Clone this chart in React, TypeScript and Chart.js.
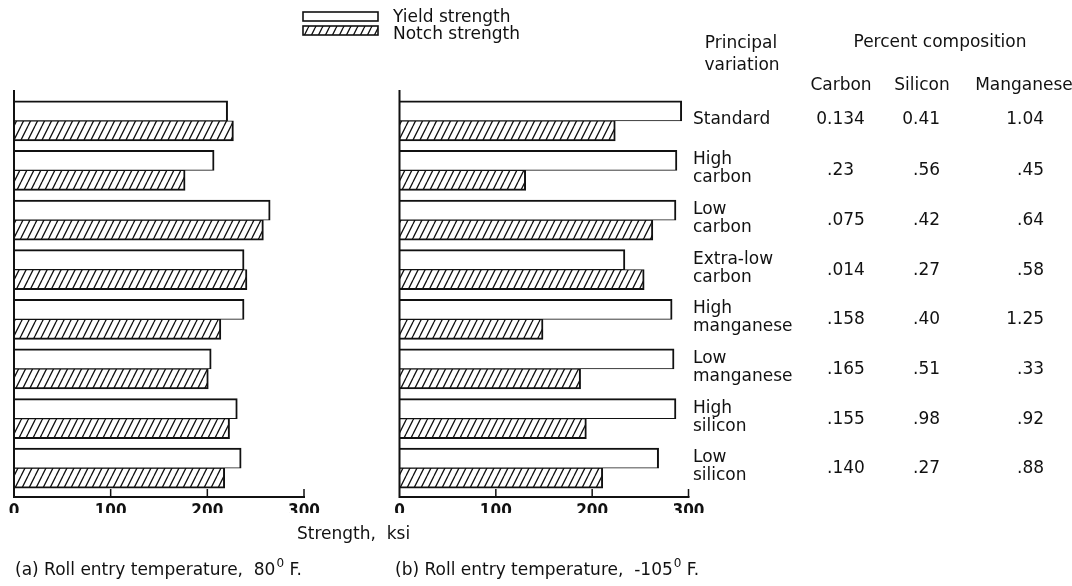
import React, { useEffect, useRef } from "react";
import { Chart, registerables } from "chart.js";

Chart.register(...registerables);

// ---------- data ----------
const categories = [
  "Standard",
  "High carbon",
  "Low carbon",
  "Extra-low carbon",
  "High manganese",
  "Low manganese",
  "High silicon",
  "Low silicon",
];
// (a) Roll entry temperature 80 F
const yieldA = [221, 207, 265, 238, 238, 204, 231, 235];
const notchA = [227, 177, 258, 241, 214, 201, 223, 218];
// (b) Roll entry temperature -105 F
const yieldB = [293, 288, 287, 234, 283, 285, 287, 269];
const notchB = [224, 131, 263, 254, 149, 188, 194, 211];

const xTicks = [0, 100, 200, 300];
const legendLabels = ["Yield strength", "Notch strength"];

const rowLabels = [
  ["Standard"],
  ["High", "carbon"],
  ["Low", "carbon"],
  ["Extra-low", "carbon"],
  ["High", "manganese"],
  ["Low", "manganese"],
  ["High", "silicon"],
  ["Low", "silicon"],
];
const carbonPct = ["0.134", ".23", ".075", ".014", ".158", ".165", ".155", ".140"];
const siliconPct = ["0.41", ".56", ".42", ".27", ".40", ".51", ".98", ".27"];
const manganesePct = ["1.04", ".45", ".64", ".58", "1.25", ".33", ".92", ".88"];

const headerPrincipal = ["Principal", "variation"];
const headerPercent = "Percent composition";
const columnHeaders = ["Carbon", "Silicon", "Manganese"];
const axisTitle = "Strength,  ksi";
const captionA = ["(a) Roll entry temperature,  80", "0", " F."];
const captionB = ["(b) Roll entry temperature,  -105", "0", " F."];

// ---------- styling ----------
const W = 1072;
const H = 586;
const INK = "#111";
const FONT = "17px 'DejaVu Sans', sans-serif";
const SUPFONT = "12px 'DejaVu Sans', sans-serif";

function makeHatch(): CanvasPattern | string {
  const c = document.createElement("canvas");
  c.width = 7;
  c.height = 14;
  const g = c.getContext("2d");
  if (!g) return "#ccc";
  g.fillStyle = "#fff";
  g.fillRect(0, 0, 7, 14);
  g.strokeStyle = INK;
  g.lineWidth = 1.3;
  g.beginPath();
  for (const dx of [-7, 0, 7]) {
    g.moveTo(dx, 14);
    g.lineTo(dx + 7, 0);
  }
  g.stroke();
  return g.createPattern(c, "repeat") || "#ccc";
}

const axisPlugin = {
  id: "panelAxes",
  afterDatasetsDraw(chart: any) {
    const { ctx, chartArea } = chart;
    const x = chart.scales.x;
    const x0 = x.getPixelForValue(xTicks[0]);
    const xEnd = x.getPixelForValue(xTicks[xTicks.length - 1]);
    const yTop = chartArea.top - 6;
    const yAxis = chartArea.bottom + 4;
    ctx.save();
    ctx.strokeStyle = INK;
    ctx.lineWidth = 2;
    ctx.beginPath();
    ctx.moveTo(x0, yTop);
    ctx.lineTo(x0, yAxis + 1);
    ctx.moveTo(x0 - 1, yAxis);
    ctx.lineTo(xEnd + 1, yAxis);
    ctx.stroke();
    ctx.lineWidth = 1.5;
    ctx.beginPath();
    for (const v of xTicks.slice(1)) {
      const px = x.getPixelForValue(v);
      ctx.moveTo(px, yAxis);
      ctx.lineTo(px, yAxis - 8);
    }
    ctx.stroke();
    ctx.restore();
  },
};

const legendPlugin = {
  id: "boxLegend",
  afterDraw(chart: any) {
    const { ctx } = chart;
    const boxTops = [12, 26];
    const textBase = [22, 39];
    ctx.save();
    chart.data.datasets.forEach((d: any, i: number) => {
      const top = boxTops[i];
      ctx.fillStyle = d.backgroundColor;
      ctx.fillRect(303, top, 75, 9);
      ctx.strokeStyle = INK;
      ctx.lineWidth = 1.6;
      ctx.strokeRect(303, top, 75, 9);
      ctx.fillStyle = INK;
      ctx.font = FONT;
      ctx.textAlign = "left";
      ctx.textBaseline = "alphabetic";
      ctx.fillText(d.label, 393, textBase[i]);
    });
    ctx.restore();
  },
};

function drawDecimal(ctx: CanvasRenderingContext2D, s: string, x: number, y: number) {
  const k = s.indexOf(".");
  const intPart = k >= 0 ? s.slice(0, k) : s;
  const frac = k >= 0 ? s.slice(k) : "";
  ctx.textAlign = "right";
  if (intPart) ctx.fillText(intPart, x, y);
  ctx.textAlign = "left";
  if (frac) ctx.fillText(frac, x, y);
}

function drawSup(ctx: CanvasRenderingContext2D, parts: string[], x: number, y: number) {
  ctx.textAlign = "left";
  ctx.font = FONT;
  ctx.fillText(parts[0], x, y);
  let w = ctx.measureText(parts[0]).width + 1;
  ctx.font = SUPFONT;
  ctx.fillText(parts[1], x + w, y - 8);
  w += ctx.measureText(parts[1]).width;
  ctx.font = FONT;
  ctx.fillText(parts[2], x + w, y);
}

const tablePlugin = {
  id: "tableText",
  afterDraw(chart: any) {
    const { ctx } = chart;
    const y = chart.scales.y;
    ctx.save();
    ctx.fillStyle = INK;
    ctx.font = FONT;
    ctx.textBaseline = "alphabetic";
    ctx.textAlign = "center";
    ctx.fillText(headerPrincipal[0], 741, 48);
    ctx.fillText(headerPrincipal[1], 742, 70);
    ctx.fillText(headerPercent, 940, 47);
    const colCenters = [841, 922, 1024];
    columnHeaders.forEach((h, i) => ctx.fillText(h, colCenters[i], 90));

    const decX = [827, 913, 1017];
    rowLabels.forEach((lines, i) => {
      const c = y.getPixelForValue(i);
      ctx.textAlign = "left";
      let nb: number;
      if (lines.length === 1) {
        ctx.fillText(lines[0], 693, c + 3);
        nb = c + 3;
      } else {
        ctx.fillText(lines[0], 693, c - 6);
        ctx.fillText(lines[1], 693, c + 12);
        nb = c + 5;
      }
      drawDecimal(ctx, carbonPct[i], decX[0], nb);
      drawDecimal(ctx, siliconPct[i], decX[1], nb);
      drawDecimal(ctx, manganesePct[i], decX[2], nb);
    });

    ctx.textAlign = "left";
    ctx.fillText(axisTitle, 297, 539);
    drawSup(ctx, captionA, 15, 575);
    drawSup(ctx, captionB, 395, 575);
    ctx.restore();
  },
};

function makeConfig(yv: number[], nv: number[], left: number, right: number, hatch: any, plugins: any[]): any {
  return {
    type: "bar",
    data: {
      labels: categories,
      datasets: [
        {
          label: legendLabels[0],
          data: yv,
          backgroundColor: "#fff",
          borderColor: INK,
          borderWidth: { top: 2, right: 2, bottom: 1, left: 0 },
          borderSkipped: false,
          barThickness: 20,
        },
        {
          label: legendLabels[1],
          data: nv,
          backgroundColor: hatch,
          borderColor: INK,
          borderWidth: { top: 1, right: 2, bottom: 2, left: 0 },
          borderSkipped: false,
          barThickness: 20,
        },
      ],
    },
    options: {
      indexAxis: "y",
      animation: false,
      responsive: false,
      maintainAspectRatio: false,
      events: [],
      layout: { padding: { left, right: W - right, top: 96, bottom: 73 } },
      plugins: { legend: { display: false }, tooltip: { enabled: false } },
      scales: {
        x: {
          type: "linear",
          position: "bottom",
          min: xTicks[0],
          max: xTicks[xTicks.length - 1],
          grid: { display: false, drawTicks: false },
          border: { display: false },
          afterBuildTicks: (s: any) => {
            s.ticks = xTicks.map((v) => ({ value: v }));
          },
          afterFit: (s: any) => {
            s.height = 20;
          },
          ticks: {
            padding: 8,
            color: INK,
            autoSkip: false,
            maxRotation: 0,
            font: { family: "'DejaVu Sans Condensed', sans-serif", size: 17, weight: "bold" },
          },
        },
        y: { type: "category", display: false, offset: true, grid: { display: false } },
      },
    },
    plugins,
  };
}

export default function App() {
  const refA = useRef<HTMLCanvasElement>(null);
  const refB = useRef<HTMLCanvasElement>(null);
  useEffect(() => {
    const hatch = makeHatch();
    const a = new Chart(refA.current as HTMLCanvasElement, makeConfig(yieldA, notchA, 14, 304, hatch, [axisPlugin, legendPlugin]));
    const b = new Chart(refB.current as HTMLCanvasElement, makeConfig(yieldB, notchB, 399.5, 688.5, hatch, [axisPlugin, tablePlugin]));
    return () => {
      a.destroy();
      b.destroy();
    };
  }, []);
  const cs: React.CSSProperties = { position: "absolute", left: 0, top: 0, width: W, height: H };
  return (
    <div style={{ position: "absolute", left: 0, top: 0, width: W, height: H, background: "#fff", overflow: "hidden" }}>
      <canvas ref={refA} width={W} height={H} style={cs} />
      <canvas ref={refB} width={W} height={H} style={cs} />
    </div>
  );
}
